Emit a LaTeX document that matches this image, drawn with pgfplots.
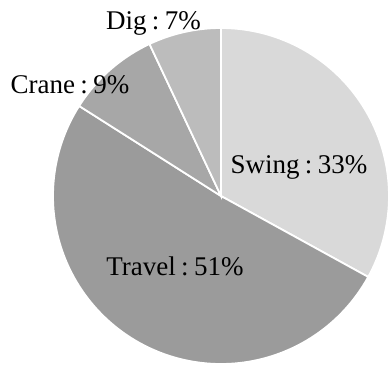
\documentclass[border=0pt]{standalone}
\usepackage{fontspec}
\setmainfont{Liberation Serif}
\usepackage{pgfplots}
\pgfplotsset{compat=1.18}
\definecolor{cswing}{HTML}{D9D9D9}
\definecolor{ctravel}{HTML}{9B9B9B}
\definecolor{ccrane}{HTML}{A7A7A7}
\definecolor{cdig}{HTML}{BCBCBC}
% slice values (percent), clockwise from 12 o'clock
\def\vSwing{33}
\def\vTravel{51}
\def\vCrane{9}
\def\vDig{7}
\pgfmathsetmacro\aA{90}
\pgfmathsetmacro\aB{\aA-\vSwing*3.6}
\pgfmathsetmacro\aC{\aB-\vTravel*3.6}
\pgfmathsetmacro\aD{\aC-\vCrane*3.6}
\pgfmathsetmacro\aE{\aD-\vDig*3.6}
\def\cx{221}
\def\cy{169}
\def\rr{168}
\newcommand\lab[2]{#1\hspace{0.2em}:\hspace{0.2em}#2\%}
\begin{document}
\begin{tikzpicture}
\begin{axis}[
  width=392pt, height=365pt, scale only axis,
  xmin=0, xmax=392, ymin=0, ymax=365,
  hide axis, clip=true,
]
\addplot[fill=cswing, draw=white, line width=1.8pt, domain=\aB:\aA, samples=80, smooth]
  ({\cx+\rr*cos(x)}, {\cy+\rr*sin(x)}) -- (axis cs:\cx,\cy) -- cycle;
\addplot[fill=ctravel, draw=white, line width=1.8pt, domain=\aC:\aB, samples=120, smooth]
  ({\cx+\rr*cos(x)}, {\cy+\rr*sin(x)}) -- (axis cs:\cx,\cy) -- cycle;
\addplot[fill=ccrane, draw=white, line width=1.8pt, domain=\aD:\aC, samples=30, smooth]
  ({\cx+\rr*cos(x)}, {\cy+\rr*sin(x)}) -- (axis cs:\cx,\cy) -- cycle;
\addplot[fill=cdig, draw=white, line width=1.8pt, domain=\aE:\aD, samples=30, smooth]
  ({\cx+\rr*cos(x)}, {\cy+\rr*sin(x)}) -- (axis cs:\cx,\cy) -- cycle;
\tikzset{lbl/.style={font=\fontsize{27}{32}\selectfont, inner sep=0pt, anchor=base}}
\node[lbl] at (axis cs:153.5,336) {\lab{Dig}{\vDig}};
\node[lbl] at (axis cs:70,272) {\lab{Crane}{\vCrane}};
\node[lbl] at (axis cs:299,192) {\lab{Swing}{\vSwing}};
\node[lbl] at (axis cs:175,89) {\lab{Travel}{\vTravel}};
\end{axis}
\pgfresetboundingbox
\useasboundingbox (current axis.south west) rectangle (current axis.north east);
\end{tikzpicture}
\end{document}
